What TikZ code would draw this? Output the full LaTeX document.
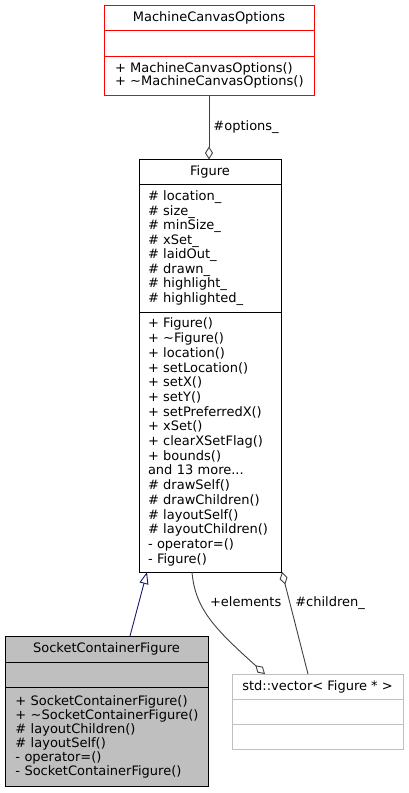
\documentclass[tikz,border=0pt]{standalone}
\usepackage{fontspec}
\setmainfont{DejaVu Sans}
\usetikzlibrary{positioning,shapes,arrows.meta}
\definecolor{edgegray}{HTML}{404040}
\definecolor{navyline}{HTML}{191970}
\definecolor{classgray}{HTML}{BFBFBF}
\newcommand{\umlfont}[1][14]{\fontsize{13}{#1}\selectfont\hyphenpenalty=10000\exhyphenpenalty=10000\hbadness=10000\hfuzz=10pt}
\tikzstyle{classtitle} = [draw, rectangle, font=\umlfont, align=center, inner sep=0pt, outer sep=0pt, line width=1pt]
\tikzstyle{classpart} = [classtitle, align=left]
\tikzstyle{edgelabel} = [font=\umlfont, text=black, inner sep=1pt]
\tikzstyle{line} = [draw, color=edgegray, line width=0.9pt]
\tikzstyle{aggregation} = [line, -{Diamond[open, length=13pt, width=8pt]}]
\tikzstyle{inherit} = [draw, color=navyline, line width=0.9pt, -{Triangle[open, length=12pt, width=9pt]}]

\begin{document}
\begin{tikzpicture}[x=1pt, y=-1pt]
    \useasboundingbox (0,0) rectangle (408,793);
    % Place nodes
    \node [classtitle, draw=red, minimum width=210pt, minimum height=25.5pt, anchor=north] (mco) at (209,5) {MachineCanvasOptions};
    \node [classpart, draw=red, inner xsep=11pt, text width=188pt, minimum height=25.5pt, below=0pt of mco] (mco-attrs) {};
    \node [classpart, draw=red, inner xsep=11pt, text width=188pt, minimum height=39.5pt, below=0pt of mco-attrs, font={\umlfont[13.2]}] (mco-ops)
        {+~MachineCanvasOptions()\\
         +~\textasciitilde MachineCanvasOptions()};

    \node [classtitle, minimum width=142pt, minimum height=24.5pt, below=64pt of mco-ops, xshift=1pt] (figure) {Figure};
    \node [classpart, inner xsep=9pt, text width=124pt, minimum height=128pt, below=0pt of figure, font={\umlfont[14.5]}] (figure-attrs)
        {\# location\_\\
         \# size\_\\
         \# minSize\_\\
         \# xSet\_\\
         \# laidOut\_\\
         \# drawn\_\\
         \# highlight\_\\
         \# highlighted\_};
    \node [classpart, inner xsep=9pt, text width=124pt, minimum height=260pt, below=0pt of figure-attrs, font={\umlfont[14.7]}] (figure-ops)
        {+ Figure()\\
         + \textasciitilde Figure()\\
         + location()\\
         + setLocation()\\
         + setX()\\
         + setY()\\
         + setPreferredX()\\
         + xSet()\\
         + clearXSetFlag()\\
         + bounds()\\
         and 13 more...\\
         \# drawSelf()\\
         \# drawChildren()\\
         \# layoutSelf()\\
         \# layoutChildren()\\
         - operator=()\\
         - Figure()};

    \node [classtitle, fill=classgray, minimum width=203pt, minimum height=26pt, below=64pt of figure-ops.south west, anchor=north west, xshift=-134pt] (socket) {SocketContainerFigure};
    \node [classpart, fill=classgray, inner xsep=10.5pt, text width=182pt, minimum height=25.5pt, below=0pt of socket] (socket-attrs) {};
    \node [classpart, fill=classgray, inner xsep=10.5pt, text width=182pt, minimum height=98.5pt, below=0pt of socket-attrs, font={\umlfont[14.1]}] (socket-ops)
        {+~SocketContainerFigure()\\
         +~\textasciitilde SocketContainerFigure()\\
         \#~layoutChildren()\\
         \#~layoutSelf()\\
         -~operator=()\\
         -~SocketContainerFigure()};

    \node [classtitle, draw=classgray, minimum width=171pt, minimum height=25pt, right=24pt of socket.north east, anchor=north west, yshift=-38pt] (vector) {std::vector< Figure * >};
    \node [classpart, draw=classgray, minimum width=171pt, minimum height=25pt, below=0pt of vector] (vector-attrs) {};
    \node [classpart, draw=classgray, minimum width=171pt, minimum height=25pt, below=0pt of vector-attrs] (vector-ops) {};

    % Draw edges
    \path [aggregation] (mco-ops.south) -- node [edgelabel, anchor=west, xshift=3pt] {\#options\_} (mco-ops.south |- figure.north);
    \path [inherit] ([xshift=23.5pt]socket.north) -- ([xshift=-63pt]figure-ops.south);
    \path [aggregation] ([xshift=-18pt]figure-ops.south) .. controls +(3,37) and +(-50,-45) .. node [edgelabel, pos=0.3, anchor=west, xshift=9pt] {+elements} ([xshift=33pt]vector.north west);
    \path [aggregation] ([xshift=76pt]vector.north west) -- node [edgelabel, pos=0.7, anchor=west, xshift=4pt] {\#children\_} ([xshift=72pt]figure-ops.south);
\end{tikzpicture}
\end{document}
